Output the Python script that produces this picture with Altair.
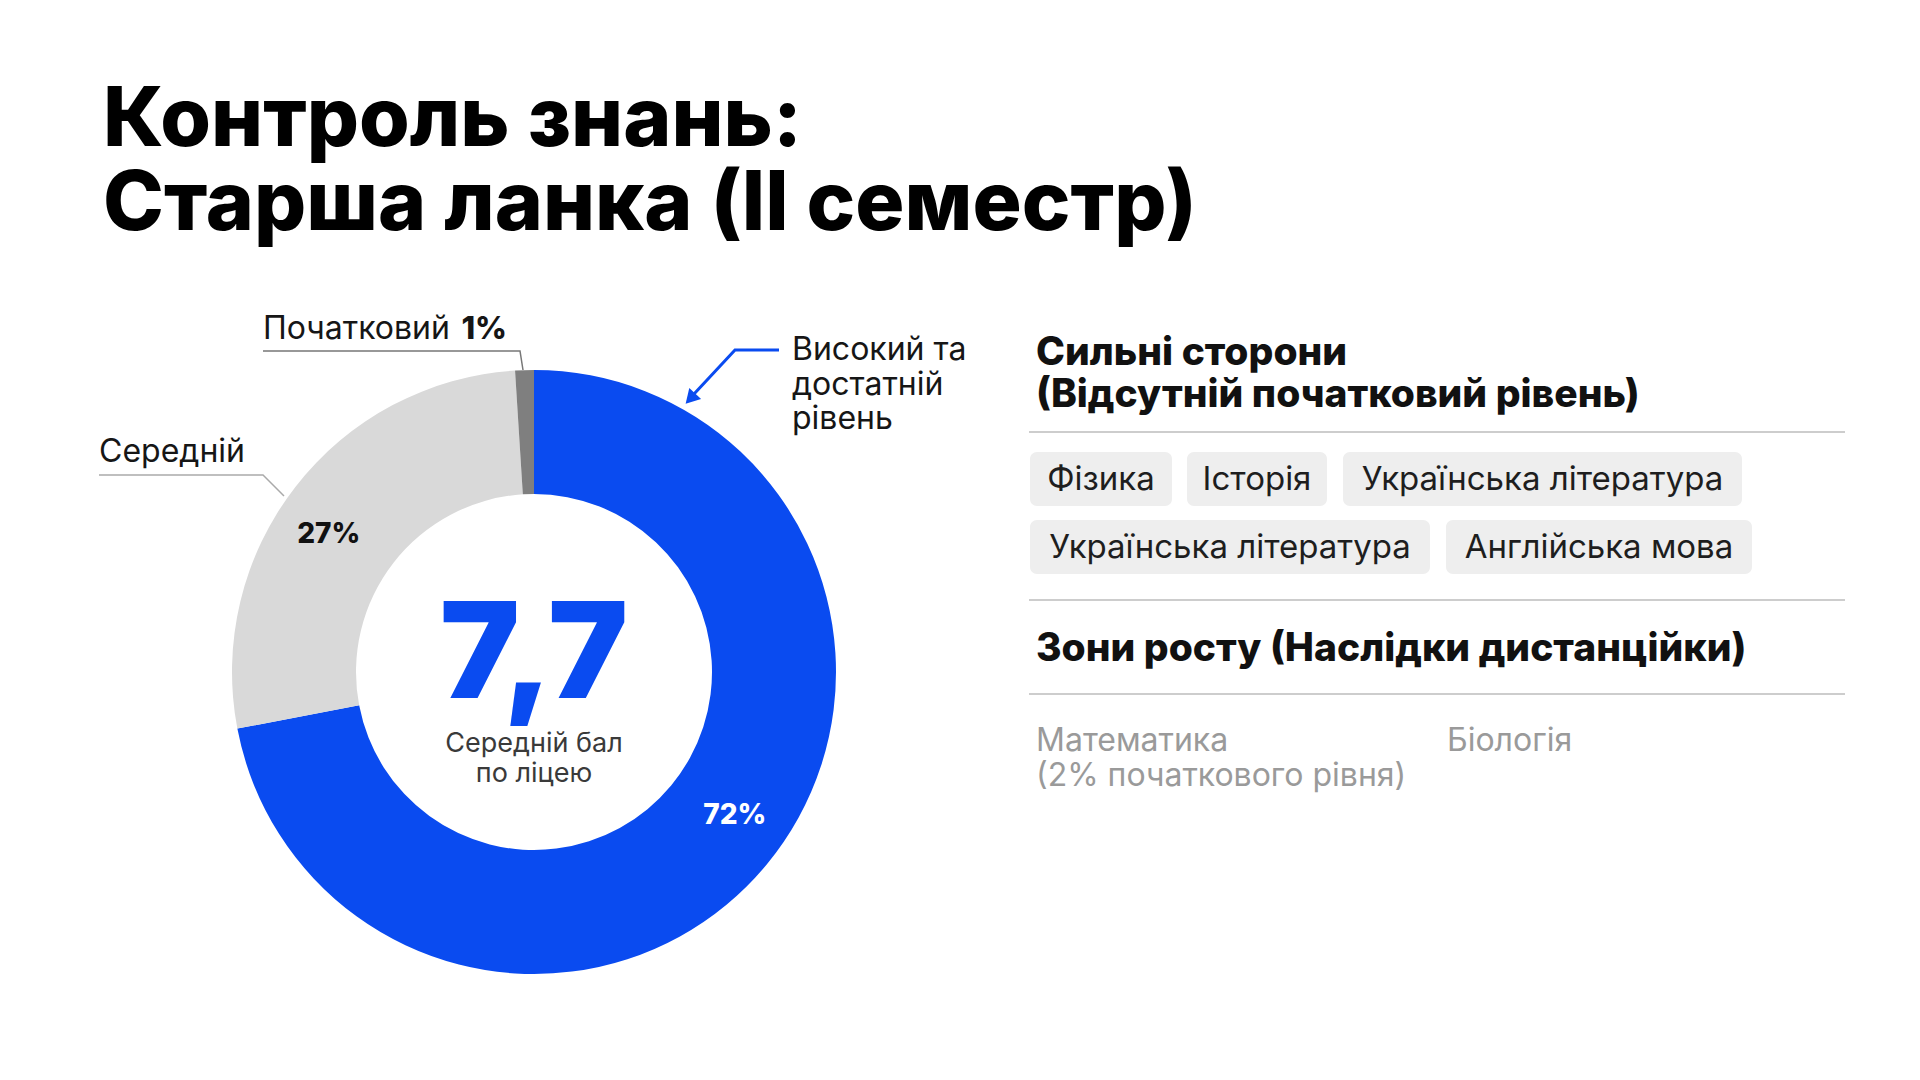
import altair as alt
import pandas as pd

# ---------------- data ----------------
levels = ["Високий та достатній рівень", "Середній", "Початковий"]
shares = [72, 27, 1]
level_colors = ["#0A4BF0", "#D9D9D9", "#7F7F7F"]
share_label_colors = ["#FFFFFF", "#111111", "#111111"]

title_lines = ["Контроль знань:", "Старша ланка (II семестр)"]
avg_score = "7,7"
avg_caption = ["Середній бал", "по ліцею"]
label_high = ["Високий та", "достатній", "рівень"]
label_mid = "Середній"
label_low = "Початковий"
label_low_pct = "1%"

strong_title = ["Сильні сторони", "(Відсутній початковий рівень)"]
strong_subjects = ["Фізика", "Історія", "Українська література",
                   "Українська література", "Англійська мова"]
growth_title = "Зони росту (Наслідки дистанційки)"
growth_subjects = [["Математика", "(2% початкового рівня)"], ["Біологія"]]

# ---------------- layout ----------------
W, H = 1920, 1080
CX, CY = 534, 672
R_IN, R_OUT = 178, 302
FONT = "Inter"

XS = alt.Scale(domain=[0, W], range=[0, W])
YS = alt.Scale(domain=[0, H], range=[0, H])


def X(f="x"):
    return alt.X(f"{f}:Q", scale=XS, axis=None)


def Y(f="y"):
    return alt.Y(f"{f}:Q", scale=YS, axis=None)


def texts(df, **kw):
    return alt.Chart(df).mark_text(font=FONT, **kw).encode(
        x=X(), y=Y(), text="t:N")


# donut
pie_df = pd.DataFrame({
    "level": levels,
    "share": shares,
    "order": list(range(len(levels))),
    "label": [f"{s}%" if s >= 5 else "" for s in shares],
    "lc": share_label_colors,
})
pie_base = alt.Chart(pie_df).encode(
    theta=alt.Theta("share:Q", stack=True),
    order=alt.Order("order:Q"),
)
arc = pie_base.mark_arc(innerRadius=R_IN, outerRadius=R_OUT).encode(
    color=alt.Color("level:N", scale=alt.Scale(domain=levels, range=level_colors), legend=None),
    x=alt.value(CX), y=alt.value(CY),
)
arc_labels = pie_base.mark_text(radius=247, thetaOffset=-0.07, font=FONT, fontSize=28,
                                fontWeight=800).encode(
    text="label:N",
    color=alt.Color("lc:N", scale=None),
    x=alt.value(CX), y=alt.value(CY),
)

# title
title = texts(pd.DataFrame({"t": title_lines, "x": [103, 103], "y": [146, 230]}),
              fontSize=82, fontWeight=800, align="left", baseline="alphabetic", color="#000000")

# center
center_num = texts(pd.DataFrame({"t": [avg_score], "x": [CX], "y": [698]}),
                   fontSize=134, fontWeight=900, align="center", baseline="alphabetic", color="#0A4BF0")
center_cap = texts(pd.DataFrame({"t": avg_caption, "x": [CX, CX], "y": [752, 782]}),
                   fontSize=27, fontWeight=400, align="center", baseline="alphabetic", color="#3A3A3A")

# outer labels
lbl_norm = texts(pd.DataFrame({
    "t": [label_low, label_mid] + label_high,
    "x": [263, 99, 792, 792, 792],
    "y": [339, 462, 360, 395, 429],
}), fontSize=32, fontWeight=400, align="left", baseline="alphabetic", color="#161616")
lbl_bold = texts(pd.DataFrame({"t": [label_low_pct], "x": [507], "y": [339]}),
                 fontSize=31, fontWeight=800, align="right", baseline="alphabetic", color="#161616")

# leader lines
lead_df = pd.DataFrame({
    "g": ["low"] * 3 + ["mid"] * 3,
    "o": [0, 1, 2, 0, 1, 2],
    "x": [263, 520, 523, 99, 263, 284],
    "y": [351, 351, 370, 475, 475, 496],
    "c": ["#777777"] * 3 + ["#AAAAAA"] * 3,
})
leaders = alt.Chart(lead_df).mark_line(strokeWidth=1.5).encode(
    x=X(), y=Y(), detail="g:N", order="o:Q", color=alt.Color("c:N", scale=None))

arrow_df = pd.DataFrame({"o": [0, 1, 2], "x": [779, 735, 694], "y": [350, 350, 394]})
arrow_line = alt.Chart(arrow_df).mark_line(strokeWidth=3, color="#0A4BF0").encode(
    x=X(), y=Y(), order="o:Q")
arrow_head = alt.Chart(pd.DataFrame({"x": [692], "y": [397]})).mark_point(
    shape="triangle", filled=True, size=260, angle=223, color="#0A4BF0", opacity=1).encode(x=X(), y=Y())

# right panel
rp_x = 1036
strong_head = texts(pd.DataFrame({"t": strong_title, "x": [rp_x, rp_x], "y": [365, 407]}),
                    fontSize=39, fontWeight=800, align="left", baseline="alphabetic", color="#111111")
growth_head = texts(pd.DataFrame({"t": [growth_title], "x": [rp_x], "y": [661]}),
                    fontSize=39, fontWeight=800, align="left", baseline="alphabetic", color="#111111")

sep_df = pd.DataFrame({"x": [1029] * 3, "x2": [1845] * 3, "y": [432, 600, 694]})
seps = alt.Chart(sep_df).mark_rule(color="#BDBDBD", strokeWidth=1.5).encode(
    x=X(), x2="x2:Q", y=Y())

chip_x0 = [1030, 1187, 1343, 1030, 1446]
chip_x1 = [1172, 1327, 1742, 1430, 1752]
chip_y0 = [452, 452, 452, 520, 520]
chip_h = 54
chip_df = pd.DataFrame({
    "t": strong_subjects,
    "x0": chip_x0, "x1": chip_x1,
    "y0": chip_y0, "y1": [v + chip_h for v in chip_y0],
})
chip_df["x"] = (chip_df["x0"] + chip_df["x1"]) / 2
chip_df["y"] = chip_df["y0"] + chip_h / 2 + 1
chips = alt.Chart(chip_df).mark_rect(cornerRadius=7, color="#EEEEEE").encode(
    x=X("x0"), x2="x1:Q", y=Y("y0"), y2="y1:Q")
chip_text = texts(chip_df, fontSize=33, fontWeight=400, align="center", baseline="middle", color="#1E1E1E")

gx = [rp_x, 1447]
g_rows = []
for i, lines in enumerate(growth_subjects):
    for j, ln in enumerate(lines):
        g_rows.append({"t": ln, "x": gx[i], "y": 751 + 35 * j})
growth_text = texts(pd.DataFrame(g_rows), fontSize=32, fontWeight=400, align="left",
                    baseline="alphabetic", color="#9A9A9A")

chart = alt.layer(
    arc, arc_labels, title, center_num, center_cap, lbl_norm, lbl_bold, leaders,
    arrow_line, arrow_head, strong_head, growth_head, seps, chips, chip_text, growth_text,
).properties(
    width=W, height=H, padding=0, autosize=alt.AutoSizeParams(type="none"),
    background="#FFFFFF",
).configure_view(stroke=None)

chart.save("out.html", embed_options={"renderer": "svg", "actions": False})
